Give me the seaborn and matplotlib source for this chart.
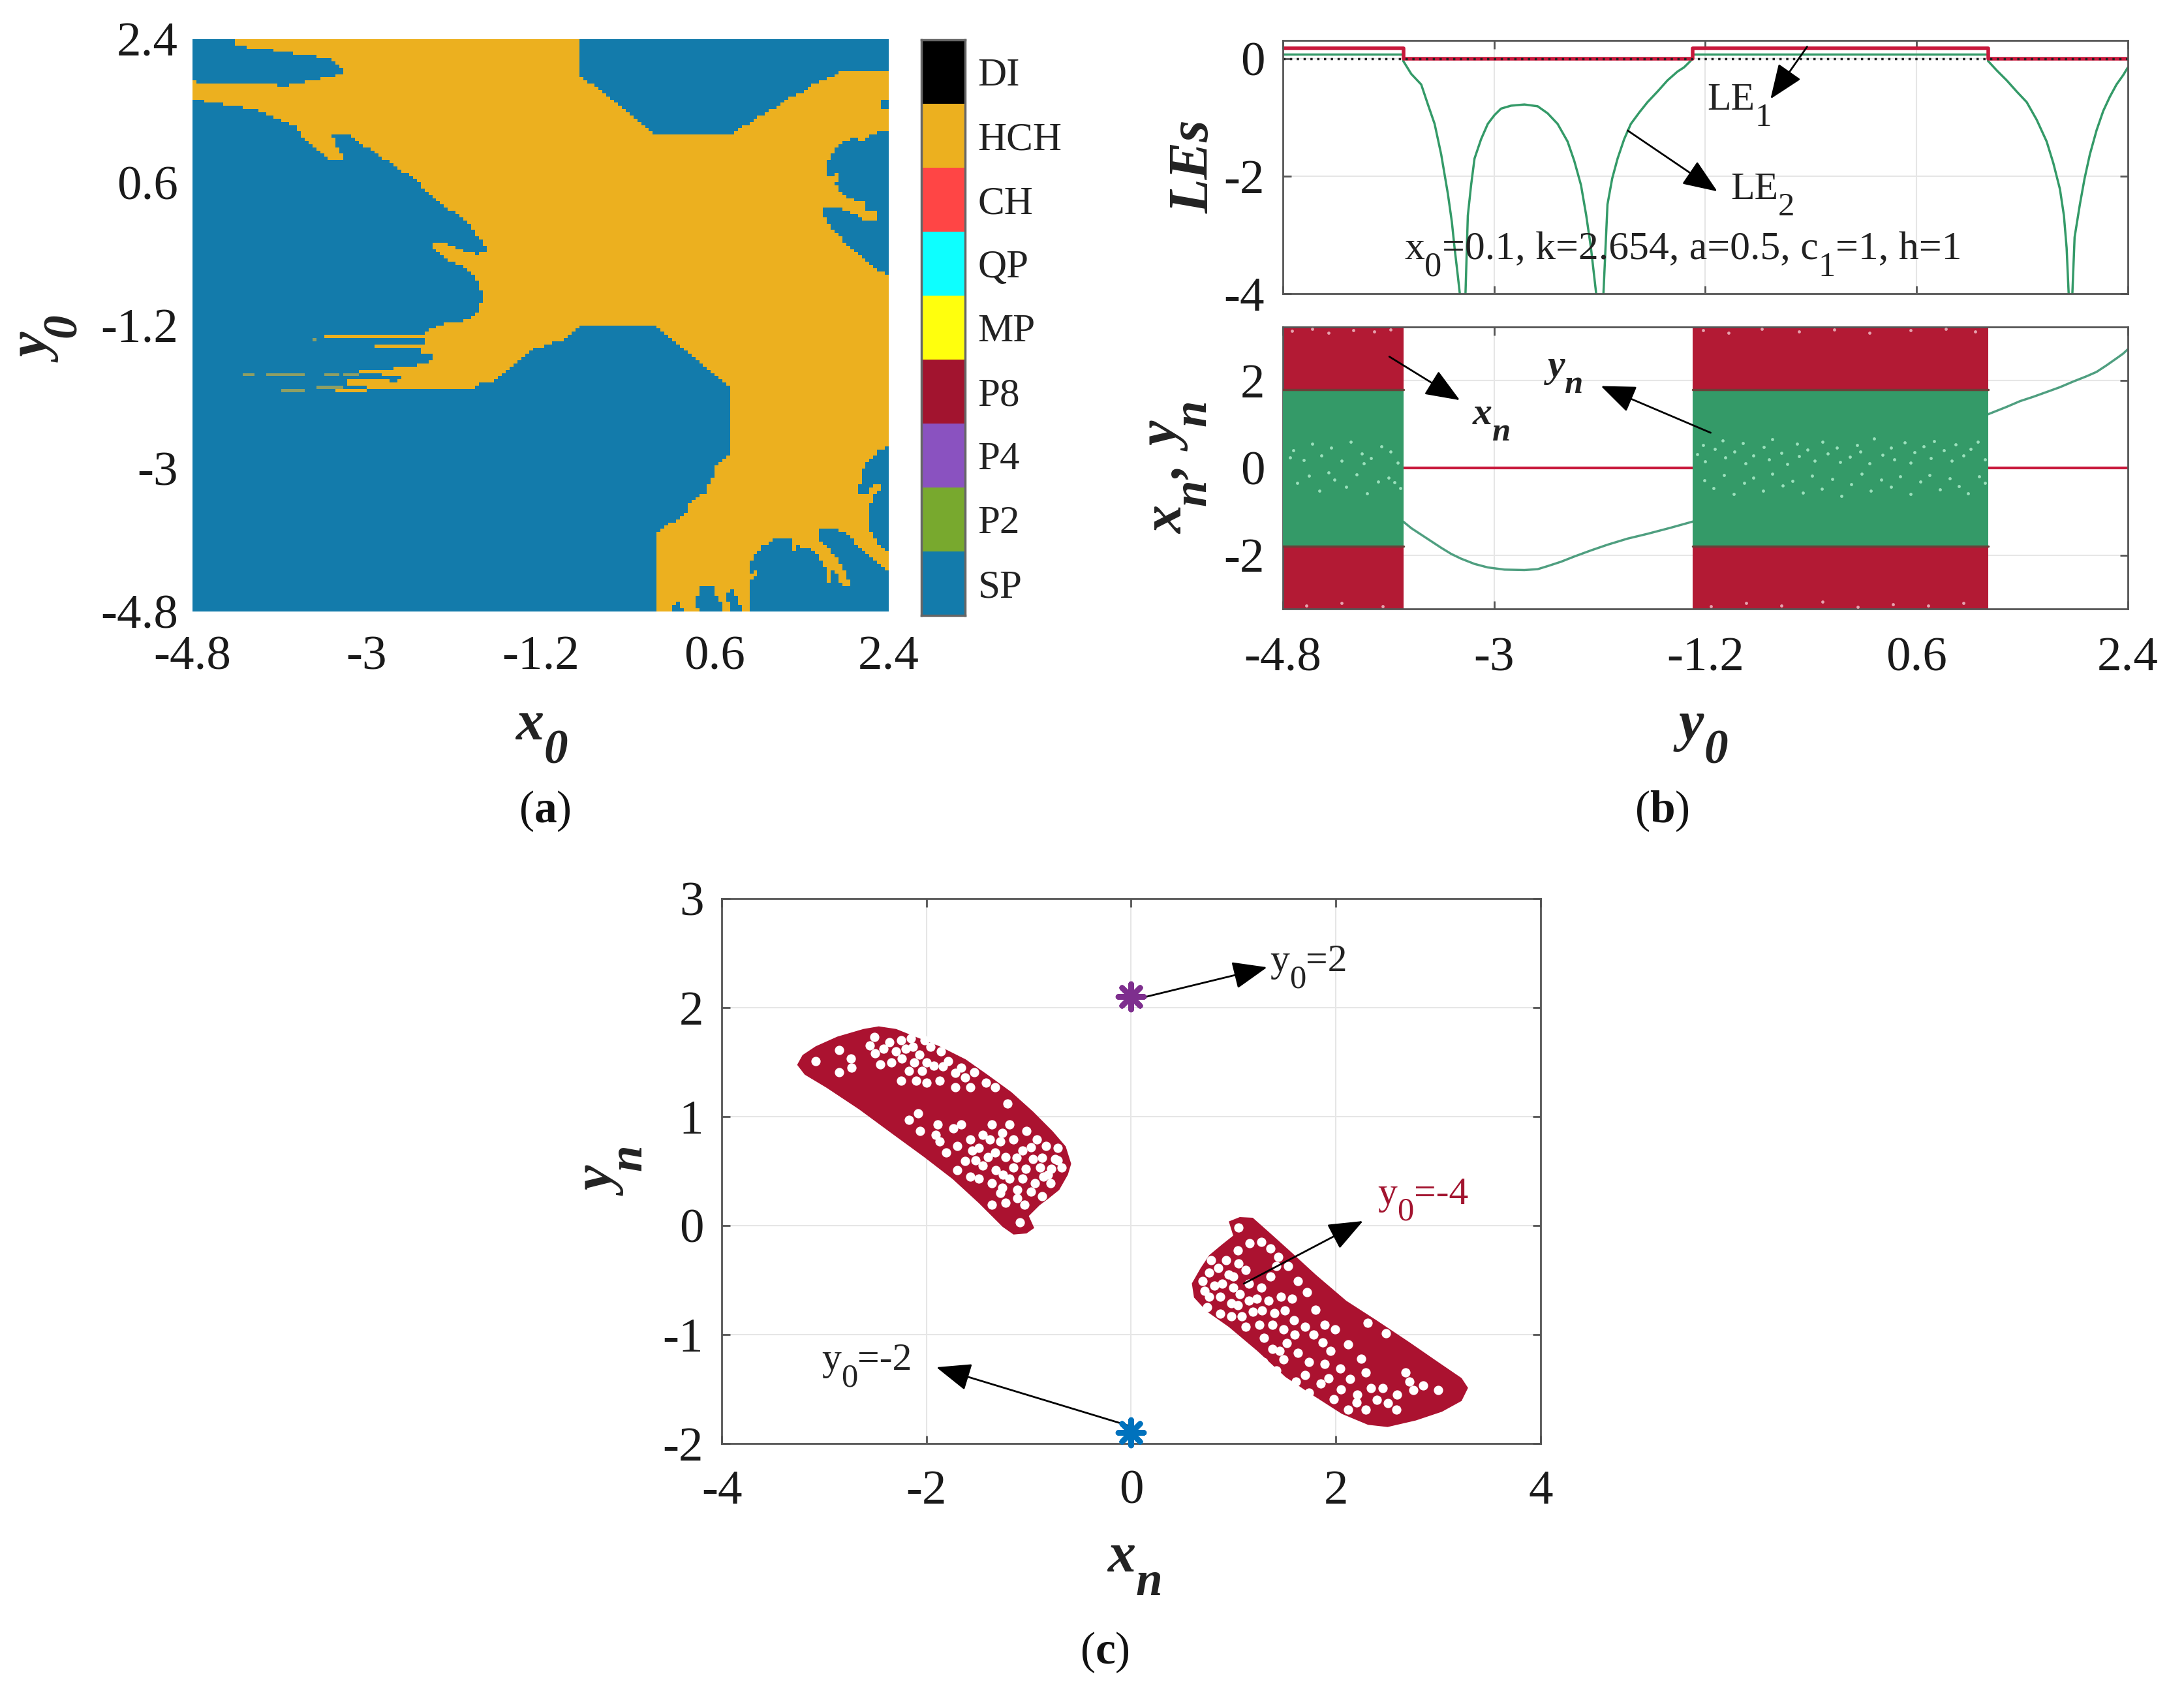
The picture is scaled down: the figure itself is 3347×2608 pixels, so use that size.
import numpy as np
import matplotlib
matplotlib.use('Agg')
import matplotlib.pyplot as plt
import matplotlib.transforms as mtransforms
from matplotlib.colors import ListedColormap
from matplotlib.path import Path
import seaborn as sns

W, H = 3348, 2608

sns.set_theme(style='whitegrid', rc={'axes.unicode_minus': False})
plt.rcParams['font.family'] = ['Liberation Serif', 'DejaVu Serif']
plt.rcParams['mathtext.fontset'] = 'custom'
plt.rcParams['mathtext.rm'] = 'Liberation Serif'
plt.rcParams['mathtext.bf'] = 'Liberation Serif:bold'

# ---- panel (a): basin map, SP regions as (x0, y0) outlines
state_names = ['DI', 'HCH', 'CH', 'QP', 'MP', 'P8', 'P4', 'P2', 'SP']
state_colors = ['#000000', '#ecb01f', '#ff4545', '#0dffff', '#ffff0d',
                '#a2142f', '#8a52c0', '#78a92e', '#137bab']
basin_ticks = [-4.8, -3, -1.2, 0.6, 2.4]
basin_ticklabels = ['-4.8', '-3', '-1.2', '0.6', '2.4']

sp_top_left = [(-4.8, 2.4), (-4.397, 2.4), (-4.318, 2.311), (-3.957, 2.259), (-3.596, 2.191), (-3.355, 2.154),
               (-3.223, 1.981), (-3.355, 1.929), (-3.837, 1.814), (-4.379, 1.85), (-4.8, 1.861)]
sp_main = [(-4.8, 1.641), (-4.379, 1.562), (-4.078, 1.484), (-3.716, 1.301), (-3.656, 1.143), (-3.475, 0.986),
           (-3.385, 0.882), (-3.223, 0.866), (-3.355, 1.18), (-3.174, 1.18), (-2.934, 0.986), (-2.572, 0.698),
           (-2.271, 0.384), (-1.94, 0.07), (-1.82, -0.139), (-1.73, -0.281), (-1.88, -0.307), (-2.091, -0.218),
           (-2.241, -0.15), (-2.332, -0.192), (-2.151, -0.375), (-1.94, -0.506), (-1.85, -0.663), (-1.79, -0.82),
           (-1.838, -1.003), (-1.887, -1.075), (-1.977, -1.13), (-2.202, -1.185), (-2.404, -1.281), (-2.416, -1.459),
           (-2.427, -1.541), (-2.326, -1.568), (-2.326, -1.65), (-2.427, -1.691), (-2.539, -1.705), (-2.674, -1.705),
           (-2.764, -1.787), (-2.618, -1.855), (-2.742, -1.924), (-2.877, -1.992), (-1.91, -2.006), (-1.82, -1.938),
           (-1.73, -1.924), (-1.617, -1.842), (-1.55, -1.765), (-1.278, -1.501), (-0.947, -1.37), (-0.796, -1.213),
           (-0.014, -1.213), (0.769, -2.0), (0.778, -2.786), (0.677, -2.909), (0.61, -2.992), (0.576, -3.128),
           (0.531, -3.21), (0.52, -3.306), (0.43, -3.347), (0.34, -3.457), (0.295, -3.594), (0.193, -3.648),
           (0.092, -3.744), (0.002, -3.826), (0.002, -4.81), (-4.8, -4.81)]
sp_top_right = [(-0.796, 2.4), (-0.796, 1.955), (-0.014, 1.18), (0.769, 1.18), (1.01, 1.405), (1.281, 1.562),
                (1.374, 1.661), (1.543, 1.743), (1.6, 1.811), (1.7, 1.88), (1.79, 1.907), (1.883, 1.981),
                (2.41, 1.981), (2.41, 2.4)]
sp_right_chip = [(2.308, 1.62), (2.41, 1.62), (2.41, 1.524), (2.308, 1.524)]
sp_right = [(2.41, 1.236), (2.274, 1.223), (2.218, 1.182), (2.117, 1.127), (2.083, 1.1), (2.083, 1.168),
            (2.027, 1.168), (1.903, 1.086), (1.858, 1.017), (1.802, 0.949), (1.768, 0.826), (1.768, 0.703),
            (1.824, 0.662), (1.847, 0.73), (1.88, 0.703), (1.88, 0.634), (1.847, 0.607), (1.869, 0.511),
            (1.959, 0.415), (2.027, 0.388), (2.162, 0.333), (2.218, 0.347), (2.173, 0.32), (2.173, 0.251),
            (2.263, 0.224), (2.308, 0.155), (2.274, 0.114), (2.139, 0.114), (2.027, 0.21), (1.869, 0.279),
            (1.779, 0.292), (1.7, 0.251), (1.79, 0.046), (1.914, -0.118), (2.094, -0.31), (2.297, -0.501),
            (2.41, -0.584)]
sp_low_right = [(2.41, -2.704), (2.296, -2.773), (2.195, -2.909), (2.128, -3.033), (2.105, -3.21), (2.071, -3.238),
                (2.083, -3.306), (2.161, -3.334), (2.251, -3.197), (2.308, -3.21), (2.296, -3.306), (2.24, -3.347),
                (2.24, -3.429), (2.195, -3.457), (2.184, -3.648), (2.218, -3.703), (2.195, -3.758), (2.274, -3.922),
                (2.33, -4.018), (2.41, -4.032)]
sp_bottom_a = [(0.171, -4.81), (0.171, -4.716), (0.216, -4.689), (0.261, -4.771), (0.261, -4.81)]
sp_bottom_b = [(0.441, -4.81), (0.407, -4.716), (0.407, -4.634), (0.463, -4.483), (0.52, -4.456), (0.598, -4.483),
               (0.61, -4.579), (0.587, -4.606), (0.632, -4.62), (0.677, -4.716), (0.7, -4.81)]
sp_bottom_c = [(0.745, -4.81), (0.745, -4.675), (0.722, -4.62), (0.756, -4.524), (0.789, -4.538), (0.834, -4.648),
               (0.868, -4.73), (0.868, -4.81)]
sp_bottom_d = [(0.947, -4.81), (0.947, -4.469), (0.983, -4.401), (1.059, -4.305), (1.026, -4.264), (0.958, -4.333),
               (0.958, -4.223), (0.981, -4.141), (1.026, -4.073), (1.082, -3.99), (1.194, -3.922), (1.228, -3.881),
               (1.385, -3.881), (1.419, -3.936), (1.363, -4.004), (1.419, -4.032), (1.453, -3.977), (1.509, -3.99),
               (1.577, -4.004), (1.689, -4.114), (1.723, -4.223), (1.779, -4.278), (1.768, -4.428), (1.79, -4.428),
               (1.813, -4.292), (1.847, -4.305), (1.914, -4.469), (1.97, -4.51), (1.993, -4.469), (1.959, -4.305),
               (1.869, -4.141), (1.779, -4.004), (1.7, -3.908), (1.7, -3.744), (1.79, -3.744), (1.981, -3.826),
               (2.049, -3.936), (2.206, -4.086), (2.319, -4.237), (2.41, -4.319), (2.41, -4.81)]
sp_regions = [sp_top_left, sp_main, sp_top_right, sp_right_chip, sp_right, sp_low_right,
              sp_bottom_a, sp_bottom_b, sp_bottom_c, sp_bottom_d]

# thin HCH streaks left of the main body: y0, x0 start, x0 end
streak_y = [-1.355, -1.48, -1.768, -1.828, -1.913, -1.946, -1.979, -2.006]
streak_x0 = [-3.439, -2.933, -3.079, -2.832, -3.214, -3.214, -3.012, -3.304]
streak_x1 = [-2.4, -2.4, -2.764, -2.618, -2.742, -2.764, -2.764, -3.0]
# fainter streaks, one grid row thick and blended with the SP colour
faint_y = [-1.801, -1.801, -1.828, -1.828, -1.973, -2.006, -1.371]
faint_x0 = [-4.294, -4.03, -3.421, -3.221, -3.506, -3.889, -3.54]
faint_x1 = [-4.17, -3.626, -3.282, -3.079, -3.259, -3.646, -3.506]

# ---- panel (b): Lyapunov exponents and states against y0
le1_x = [-4.8, -3.774, -3.774, -1.308, -1.308, 1.209, 1.209, 2.4]
le1_y = [0.18, 0.18, 0.0, 0.0, 0.18, 0.18, 0.0, 0.0]
le2_x = [-4.8, -3.774,
         -3.774, -3.706, -3.621, -3.564, -3.507, -3.451, -3.394, -3.36, -3.337, -3.309, -3.281,
         -3.247, -3.224, -3.196, -3.167, -3.111, -3.054, -2.997, -2.941, -2.856, -2.742, -2.629, -2.544, -2.459,
         -2.374, -2.317, -2.26, -2.215, -2.175, -2.119,
         -2.073, -2.034, -1.994, -1.948, -1.892, -1.835, -1.761, -1.693, -1.608, -1.523, -1.438, -1.382, -1.342, -1.308,
         -1.308, 1.209,
         1.209, 1.283, 1.368, 1.453, 1.538, 1.623, 1.708, 1.765, 1.821, 1.855, 1.878, 1.9, 1.923, 1.946, 1.991, 2.031,
         2.076, 2.133, 2.19, 2.246, 2.303, 2.36, 2.4]
le2_y = [0.07, 0.07,
         -0.04, -0.26, -0.44, -0.78, -1.11, -1.63, -2.30, -2.78, -3.22, -3.70, -4.2,
         -4.2, -2.67, -2.15, -1.70, -1.37, -1.11, -0.96, -0.85, -0.80, -0.78, -0.81, -0.93, -1.11,
         -1.41, -1.74, -2.15, -2.67, -3.22, -4.2,
         -4.2, -2.48, -2.04, -1.70, -1.37, -1.11, -0.91, -0.74, -0.56, -0.37, -0.22, -0.148, -0.07, 0.0,
         0.07, 0.07,
         -0.04, -0.2, -0.37, -0.56, -0.74, -1.04, -1.41, -1.78, -2.22, -2.67, -3.22, -4.2, -4.2, -3.04, -2.48, -2.04,
         -1.63, -1.22, -0.89, -0.65, -0.44, -0.28, -0.148]
chaos_starts = [-4.8, -1.308]
chaos_ends = [-3.774, 1.209]
periodic_starts = [-3.774, 1.209]
periodic_ends = [-1.308, 2.4]
xn_band = 3.23
yn_band = 1.8
yn_left_x = [-3.774, -3.706, -3.621, -3.536, -3.451, -3.366, -3.281, -3.167, -3.054, -2.912, -2.742, -2.629, -2.544,
             -2.43, -2.317, -2.175, -2.034, -1.863, -1.693, -1.495, -1.308]
yn_left_y = [-1.23, -1.38, -1.53, -1.68, -1.83, -1.97, -2.08, -2.2, -2.28, -2.33, -2.34, -2.32, -2.25,
             -2.15, -2.03, -1.89, -1.76, -1.62, -1.51, -1.37, -1.23]
yn_right_x = [1.209, 1.368, 1.481, 1.594, 1.708, 1.821, 1.935, 2.048, 2.133, 2.218, 2.303, 2.36, 2.4]
yn_right_y = [1.23, 1.40, 1.53, 1.63, 1.74, 1.85, 1.98, 2.10, 2.2, 2.35, 2.51, 2.62, 2.72]
# light gaps in the green band
gap_x = [-4.71, -4.62, -4.55, -4.47, -4.39, -4.30, -4.22, -4.13, -4.05, -3.96, -3.88, -3.82, -4.68, -4.58, -4.49,
         -4.36, -4.26, -4.17, -4.08, -3.99, -3.90, -3.80, -4.74, -4.41, -4.11, -3.85,
         -1.27, -1.22, -1.2, -1.12, -1.05, -1.03, -0.95, -0.88, -0.86, -0.79, -0.7, -0.66, -0.63, -0.55, -0.5,
         -0.42, -0.4, -0.33, -0.27, -0.2, -0.16, -0.08, -0.05, 0.03, 0.09, 0.12, 0.2, 0.24, 0.31, 0.38,
         0.41, 0.5, 0.55, 0.58, 0.66, 0.72, 0.75, 0.83, 0.9, 0.93, 1.0, 1.06, 1.12, 1.18,
         -1.21, -1.13, -1.04, -0.96, -0.87, -0.79, -0.71, -0.63, -0.54, -0.46, -0.37, -0.29, -0.21, -0.12, -0.04,
         0.04, 0.13, 0.21, 0.30, 0.38, 0.46, 0.55, 0.63, 0.71, 0.80, 0.88, 0.96, 1.04, 1.13, 1.18]
gap_y = [0.41, 0.18, 0.55, 0.28, 0.47, 0.16, 0.60, 0.33, 0.22, 0.50, 0.38, 0.12, -0.35, -0.18, -0.52, -0.27, -0.44,
         -0.15, -0.58, -0.31, -0.22, -0.47, 0.24, -0.10, 0.10, -0.33,
         0.31, 0.52, 0.15, 0.44, 0.63, 0.24, 0.38, 0.57, 0.11, 0.29, 0.48, 0.19, 0.66, 0.35, 0.09,
         0.55, 0.27, 0.42, 0.17, 0.6, 0.33, 0.46, 0.13, 0.25, 0.53, 0.38, 0.1, 0.68, 0.3, 0.47,
         0.2, 0.58, 0.12, 0.36, 0.5, 0.23, 0.62, 0.41, 0.16, 0.54, 0.28, 0.44, 0.6, 0.2,
         -0.28, -0.47, -0.16, -0.60, -0.35, -0.22, -0.52, -0.13, -0.41, -0.30, -0.57, -0.18, -0.48, -0.25, -0.65,
         -0.37, -0.14, -0.53, -0.27, -0.44, -0.20, -0.60, -0.32, -0.16, -0.50, -0.24, -0.42, -0.58, -0.19, -0.34]
# pale gaps along the outer edge of the red band
edge_gap_x = [-4.72, -4.55, -4.41, -4.2, -4.02, -3.88, -4.6, -4.3, -3.95, -1.22, -1.0, -0.72, -0.4, -0.1, 0.2, 0.55,
              0.85, 1.1, -1.15, -0.85, -0.55, -0.2, 0.1, 0.4, 0.7, 1.0]
edge_gap_y = [3.14, 3.18, 3.09, 3.16, 3.12, 3.17, -3.15, -3.09, -3.17, 3.16, 3.1, 3.18, 3.13, 3.17, 3.09, 3.15,
              3.18, 3.12, -3.17, -3.1, -3.16, -3.07, -3.18, -3.12, -3.16, -3.09]

# ---- panel (c): phase portrait, attractor outlines and their gaps
crescent_a_x = [-3.263, -3.21, -3.082, -2.87, -2.615, -2.466, -2.296, -2.084, -1.871, -1.616, -1.404, -1.17, -0.958,
                -0.767, -0.639, -0.586, -0.618, -0.703, -0.809, -0.894, -1.0, -0.947, -1.022, -1.149, -1.255, -1.489,
                -1.744, -2.02, -2.339, -2.657, -2.976, -3.189]
crescent_a_y = [1.475, 1.565, 1.645, 1.734, 1.804, 1.828, 1.804, 1.724, 1.645, 1.525, 1.385, 1.225, 1.046, 0.866,
                0.726, 0.567, 0.467, 0.327, 0.247, 0.187, 0.088, -0.022, -0.072, -0.082, -0.012, 0.207, 0.427, 0.627,
                0.846, 1.066, 1.265, 1.385]
crescent_b_x = [0.954, 1.061, 1.188, 1.337, 1.549, 1.804, 2.102, 2.399, 2.718, 2.994, 3.228, 3.291, 3.228, 3.036,
                2.781, 2.505, 2.314, 2.059, 1.762, 1.507, 1.231, 0.954, 0.742, 0.614, 0.593, 0.678, 0.763, 0.891, 0.997]
crescent_b_y = [0.038, 0.078, 0.072, -0.052, -0.231, -0.451, -0.69, -0.87, -1.07, -1.249, -1.399, -1.489, -1.609,
                -1.708, -1.788, -1.848, -1.828, -1.728, -1.549, -1.389, -1.149, -0.93, -0.79, -0.66, -0.531, -0.391,
                -0.271, -0.171, -0.092]
holes_a_x = [-3.08, -2.85, -2.74, -2.85, -2.73, -2.51, -2.55, -2.50, -2.36, -2.34, -2.24, -2.25, -2.13, -2.07, -1.96,
             -1.93, -1.79, -1.86, -1.66, -2.25, -2.10, -2.00, -1.87, -1.72, -1.57, -1.42, -1.33, -2.45, -2.17, -2.04,
             -2.15, -2.02, -1.53, -1.21, -2.08, -2.17, -2.06, -1.89, -1.74, -1.66, -1.57, -1.49, -1.36, -1.26, -1.19,
             -1.55, -1.38, -1.28, -1.15, -1.02, -0.92, -0.83, -0.72, -1.70, -1.23, -1.06, -0.96, -0.89, -1.15, -1.19,
             -1.06, -0.94, -0.81, -0.68, -0.79, -1.32, -1.45, -1.62, -1.36, -1.26, -1.11, -0.98, -0.87, -1.70, -1.49,
             -1.57, -1.81, -1.87, -1.91, -0.74, -1.09, -1.36, -1.23, -1.04, -1.11,
             -2.42, -2.30, -2.20, -2.00, -1.72, -1.62, -1.84, -2.12, -1.45, -1.33, -0.98, -1.12, -0.87, -0.78, -1.03,
             -1.25, -0.86, -1.40, -1.52, -1.28, -0.72]
holes_a_y = [1.51, 1.61, 1.53, 1.41, 1.45, 1.73, 1.65, 1.58, 1.68, 1.50, 1.53, 1.70, 1.64, 1.57, 1.64, 1.47, 1.51,
             1.60, 1.45, 1.33, 1.33, 1.31, 1.33, 1.27, 1.27, 1.31, 1.27, 1.48, 1.42, 1.42, 1.72, 1.70, 1.41, 1.12,
             1.03, 0.97, 0.87, 0.93, 0.89, 0.93, 0.79, 0.71, 0.93, 0.85, 0.93, 0.69, 0.79, 0.77, 0.79, 0.87, 0.79,
             0.73, 0.71, 0.73, 0.63, 0.69, 0.61, 0.53, 0.53, 0.43, 0.43, 0.39, 0.47, 0.53, 0.39, 0.51, 0.55, 0.59,
             0.39, 0.35, 0.33, 0.31, 0.27, 0.51, 0.43, 0.45, 0.67, 0.77, 0.83, 0.61, 0.03, 0.19, 0.21, 0.19, 0.25,
             1.62, 1.60, 1.62, 1.50, 1.40, 1.36, 1.46, 1.50, 0.83, 0.67, 0.72, 0.62, 0.62, 0.52, 0.52,
             0.47, 0.45, 0.63, 0.60, 0.30, 0.60]
holes_b_x = [1.05, 1.16, 1.04, 0.93, 1.05, 1.12, 0.85, 0.78, 1.00, 0.89, 0.81, 0.76, 0.70, 1.00, 1.06, 0.76, 0.87,
             0.98, 1.04, 1.15, 1.23, 1.27, 1.36, 1.42, 1.53, 1.34, 1.46, 1.57, 1.63, 1.72, 0.74, 0.87, 0.98, 1.08,
             1.19, 1.25, 1.38, 1.49, 1.59, 1.70, 1.80, 1.89, 1.99, 1.87, 2.12, 1.38, 1.49, 1.63, 1.74, 1.89, 2.04,
             2.14, 2.29, 2.34, 2.46, 1.98, 2.21, 2.12, 2.29, 2.51, 2.59, 1.61, 1.74, 1.85, 1.29, 1.42, 2.68, 2.72,
             2.85, 3.00, 2.76, 2.49, 2.31, 1.36, 1.44, 1.27,
             0.95, 0.72, 1.15, 1.28, 1.50, 1.40, 1.60, 1.78, 1.95, 1.52, 1.30, 1.12, 1.70, 1.93, 2.25, 1.80, 2.40,
             2.05, 2.20, 2.60, 1.45]
holes_b_y = [-0.02, -0.16, -0.23, -0.32, -0.35, -0.41, -0.39, -0.32, -0.47, -0.53, -0.55, -0.43, -0.51, -0.57, -0.63,
             -0.65, -0.65, -0.71, -0.73, -0.69, -0.67, -0.57, -0.47, -0.37, -0.37, -0.69, -0.65, -0.67, -0.51, -0.61,
             -0.75, -0.81, -0.83, -0.83, -0.79, -0.91, -0.91, -0.95, -0.87, -0.93, -0.77, -0.91, -0.95, -1.07, -1.09,
             -1.13, -1.23, -1.17, -1.25, -1.27, -1.31, -1.41, -1.35, -1.49, -1.49, -1.59, -1.55, -1.69, -1.69, -1.63,
             -1.69, -1.43, -1.53, -1.45, -1.25, -1.33, -1.35, -1.43, -1.47, -1.51, -1.51, -0.99, -0.89, -0.21, -0.29,
             -0.15,
             -0.45, -0.60, -0.53, -0.78, -0.78, -0.80, -1.00, -1.00, -1.15, -1.08, -1.03, -0.93, -1.37, -1.40, -1.22,
             -1.62, -1.60, -1.50, -1.62, -1.55, -1.15]
star_x = [0.0, 0.0]
star_y = [2.1, -1.9]
star_colors = ['#7e2f8e', '#0072bd']
portrait_xticks = [-4, -2, 0, 2, 4]
portrait_yticks = [-2, -1, 0, 1, 2, 3]

BAND_RED = '#b31a34'
BAND_GREEN = '#349a68'
LINE_RED = '#c8193c'
CRESCENT_RED = '#ab1230'
SPINE = '#555555'
TICK_SIZE = 54
NOTE_SIZE = 43
LABEL_SIZE = 62


def px_axes(fig, left, top, right, bottom):
    return fig.add_axes([left / W, 1 - bottom / H, (right - left) / W, (bottom - top) / H])


def chain_text(fig, x, y, parts, size, drop=0.42, sub_scale=0.85, rot=0, **kw):
    # x, y are display pixels (y up); parts are (string, is_subscript)
    renderer = fig.canvas.get_renderer()
    for s, is_sub in parts:
        fs = size * sub_scale if is_sub else size
        off = drop * size * 100 / 72 if is_sub else 0
        px = x + off if rot == 90 else x
        py = y if rot == 90 else y - off
        t = fig.text(px, py, s, fontsize=fs, rotation=rot, rotation_mode='anchor', ha='left', va='baseline',
                     transform=mtransforms.IdentityTransform(), **kw)
        t.set_rotation(0)
        adv = t.get_window_extent(renderer).width
        t.set_rotation(rot)
        if rot == 90:
            y += adv
        else:
            x += adv


def data_text(fig, ax, xv, yv, parts, size=NOTE_SIZE, **kw):
    x, y = ax.transData.transform((xv, yv))
    chain_text(fig, x, y, parts, size, **kw)


def arrow(ax, start, end):
    ax.annotate('', xy=end, xytext=start, xycoords='data',
                arrowprops=dict(arrowstyle='-|>,head_length=1.5,head_width=0.6', color='black', lw=2,
                                shrinkA=0, shrinkB=0, mutation_scale=22))


def style_axes(ax):
    for s in ax.spines.values():
        s.set_visible(True)
        s.set_color(SPINE)
        s.set_linewidth(2)
    ax.grid(True, color='#e6e6e6', lw=1.5)
    ax.set_axisbelow(True)
    ax.tick_params(direction='in', length=9, width=2, color=SPINE, labelsize=TICK_SIZE, labelcolor='#1a1a1a',
                   bottom=True, left=True, top=True, right=True, pad=20)


def basin_grid(n=180):
    cell = 7.2 / n
    xc = -4.8 + (np.arange(n) + 0.5) * cell
    yc = 2.4 - (np.arange(n) + 0.5) * cell
    xx, yy = np.meshgrid(xc, yc)
    pts = np.column_stack([xx.ravel(), yy.ravel()])
    grid = np.ones(n * n, dtype=int)
    for region in sp_regions:
        grid[Path(region).contains_points(pts)] = 0
    grid = grid.reshape(n, n)
    for ys, x0s, x1s, val in [(streak_y, streak_x0, streak_x1, 1), (faint_y, faint_x0, faint_x1, 2)]:
        for y, a, b in zip(ys, x0s, x1s):
            row = int(round((2.4 - y) / cell - 0.5))
            grid[row, (xc >= a) & (xc <= b)] = val
    return grid


fig = plt.figure(figsize=(W / 100, H / 100), dpi=100, facecolor='white')
fig.canvas.draw()

# panel (a)
ax_a = px_axes(fig, 295, 60, 1362, 937)
grid = basin_grid()
sns.heatmap(grid, ax=ax_a, cmap=ListedColormap(['#137bab', '#ecb01f', '#8f9f63']), vmin=0, vmax=2, cbar=False,
            xticklabels=False, yticklabels=False, rasterized=True)
n_cells = grid.shape[0]
ax_a.set_xticks([(v + 4.8) / 7.2 * n_cells for v in basin_ticks])
ax_a.set_xticklabels(basin_ticklabels, rotation=0)
ax_a.set_yticks([(2.4 - v) / 7.2 * n_cells for v in basin_ticks])
ax_a.set_yticklabels(basin_ticklabels, rotation=0)
ax_a.tick_params(length=0, labelsize=TICK_SIZE, labelcolor='#1a1a1a')
ax_a.tick_params(axis='x', pad=27)
ax_a.tick_params(axis='y', pad=16)
ax_a.grid(False)
for s in ax_a.spines.values():
    s.set_visible(False)

ax_cb = px_axes(fig, 1412, 61, 1479, 943)
sns.heatmap(np.arange(len(state_names)).reshape(-1, 1), ax=ax_cb, cmap=ListedColormap(state_colors), cbar=False,
            xticklabels=False, yticklabels=state_names)
ax_cb.yaxis.tick_right()
ax_cb.tick_params(axis='y', right=True, left=False, direction='in', length=10, width=2, color='#444444', rotation=0,
                  labelsize=44, pad=14, labelcolor='#222222')
for s in ax_cb.spines.values():
    s.set_visible(True)
    s.set_color('#666666')
    s.set_linewidth(2.5)
ax_cb.grid(False)

# panel (b), exponents
ax_le = px_axes(fig, 1966, 62, 3261, 450)
sns.lineplot(x=le2_x, y=le2_y, ax=ax_le, color=BAND_GREEN, lw=2.5, sort=False, estimator=None)
sns.lineplot(x=le1_x, y=le1_y, ax=ax_le, color=LINE_RED, lw=4, sort=False, estimator=None)
ax_le.axhline(0, color='#222222', lw=2.5, ls=(0, (1, 2)))
ax_le.set_xlim(-4.8, 2.4)
ax_le.set_ylim(-4, 0.31)
style_axes(ax_le)
ax_le.set_xticks(basin_ticks)
ax_le.set_xticklabels([])
ax_le.set_yticks([-4, -2, 0])
ax_le.set_yticklabels(['-4', '-2', '0'])
arrow(ax_le, (-0.333, 0.204), (-0.645, -0.685))
arrow(ax_le, (-1.863, -1.222), (-1.098, -2.259))

# panel (b), states
ax_st = px_axes(fig, 1966, 501, 3261, 933)
for a, b in zip(chaos_starts, chaos_ends):
    ax_st.fill_between([a, b], -xn_band, xn_band, color=BAND_RED, lw=0, zorder=2)
    ax_st.fill_between([a, b], -yn_band, yn_band, color=BAND_GREEN, lw=0, zorder=3)
    ax_st.plot([a, b], [yn_band, yn_band], color='#6b4038', lw=2.5, zorder=3)
    ax_st.plot([a, b], [-yn_band, -yn_band], color='#6b4038', lw=2.5, zorder=3)
sns.scatterplot(x=gap_x, y=gap_y, ax=ax_st, color='#9be0bc', s=12, linewidth=0, zorder=4)
sns.scatterplot(x=edge_gap_x, y=edge_gap_y, ax=ax_st, color='#e6a3ae', s=12, linewidth=0, zorder=4)
for a, b in zip(periodic_starts, periodic_ends):
    sns.lineplot(x=[a, b], y=[0, 0], ax=ax_st, color=LINE_RED, lw=3, estimator=None)
sns.lineplot(x=yn_left_x, y=yn_left_y, ax=ax_st, color='#4f9f80', lw=2.5, estimator=None)
sns.lineplot(x=yn_right_x, y=yn_right_y, ax=ax_st, color='#4f9f80', lw=2.5, estimator=None)
ax_st.set_xlim(-4.8, 2.4)
ax_st.set_ylim(-3.23, 3.23)
style_axes(ax_st)
ax_st.set_xticks(basin_ticks)
ax_st.set_xticklabels(basin_ticklabels)
ax_st.set_yticks([-2, 0, 2])
ax_st.set_yticklabels(['-2', '0', '2'])
ax_st.tick_params(axis='x', pad=31)
arrow(ax_st, (-3.893, 2.55), (-3.292, 1.552))
arrow(ax_st, (-1.155, 0.806), (-2.09, 1.876))

# panel (c)
ax_c = px_axes(fig, 1106, 1377, 2361, 2212)
ax_c.fill(crescent_a_x, crescent_a_y, color=CRESCENT_RED, lw=0, zorder=2)
ax_c.fill(crescent_b_x, crescent_b_y, color=CRESCENT_RED, lw=0, zorder=2)
sns.scatterplot(x=holes_a_x, y=holes_a_y, ax=ax_c, color='white', s=105, linewidth=0, zorder=3)
sns.scatterplot(x=holes_b_x, y=holes_b_y, ax=ax_c, color='white', s=105, linewidth=0, zorder=3)
for sx, sy, sc in zip(star_x, star_y, star_colors):
    sns.scatterplot(x=[sx], y=[sy], ax=ax_c, color=sc, marker=(8, 2, 0), s=800, linewidth=6, zorder=5, clip_on=False)
ax_c.set_xlim(-4, 4)
ax_c.set_ylim(-2, 3)
style_axes(ax_c)
ax_c.set_xticks(portrait_xticks)
ax_c.set_xticklabels([str(v) for v in portrait_xticks])
ax_c.set_yticks(portrait_yticks)
ax_c.set_yticklabels([str(v) for v in portrait_yticks])
ax_c.tick_params(axis='x', pad=29)
arrow(ax_c, (0.13, 2.096), (1.328, 2.37))
arrow(ax_c, (1.10, -0.533), (2.265, 0.042))
arrow(ax_c, (-0.01, -1.84), (-1.903, -1.30))

# annotations
data_text(fig, ax_le, -1.183, -0.87, [('LE', False), ('1', True)], color='#222222')
data_text(fig, ax_le, -0.985, -2.39, [('LE', False), ('2', True)], color='#222222')
data_text(fig, ax_le, -3.763, -3.41, [('x', False), ('0', True), ('=0.1, k=2.654, a=0.5, c', False), ('1', True),
                                      ('=1, h=1', False)], size=44.5, color='#222222')
bi = dict(fontstyle='italic', fontweight='bold', color='#222222')
data_text(fig, ax_st, -3.184, 1.0, [('x', False), ('n', True)], **bi)
data_text(fig, ax_st, -2.544, 2.1, [('y', False), ('n', True)], **bi)
data_text(fig, ax_c, 1.354, 2.335, [('y', False), ('0', True), ('=2', False)], color='#222222')
data_text(fig, ax_c, 2.41, 0.2, [('y', False), ('0', True), ('=-4', False)], color='#a2142f')
data_text(fig, ax_c, -3.025, -1.323, [('y', False), ('0', True), ('=-2', False)], color='#222222')

# axis labels, placed by hand because the subscripts are nearly full size
lab = dict(fontstyle='italic', fontweight='bold', color='#222222')
chain_text(fig, 790, H - 1133, [('x', False), ('0', True)], LABEL_SIZE, **lab)
chain_text(fig, 80, H - 555, [('y', False), ('0', True)], LABEL_SIZE, rot=90, **lab)
chain_text(fig, 1852, H - 327, [('LEs', False)], LABEL_SIZE, rot=90, **lab)
chain_text(fig, 1811, H - 818, [('x', False), ('n', True), (', ', False), ('y', False), ('n', True)], LABEL_SIZE,
           rot=90, **lab)
chain_text(fig, 2573, H - 1133, [('y', False), ('0', True)], LABEL_SIZE, **lab)
chain_text(fig, 1697, H - 2408, [('x', False), ('n', True)], LABEL_SIZE, **lab)
chain_text(fig, 946, H - 1832, [('y', False), ('n', True)], LABEL_SIZE, rot=90, **lab)

# panel tags
fig.text(835 / W, 1 - 1243 / H, r'($\mathbf{a}$)', fontsize=50, ha='center', va='center', color='#111111')
fig.text(2547 / W, 1 - 1243 / H, r'($\mathbf{b}$)', fontsize=50, ha='center', va='center', color='#111111')
fig.text(1693 / W, 1 - 2532 / H, r'($\mathbf{c}$)', fontsize=50, ha='center', va='center', color='#111111')

plt.savefig('out.png', dpi=100, facecolor='white')
